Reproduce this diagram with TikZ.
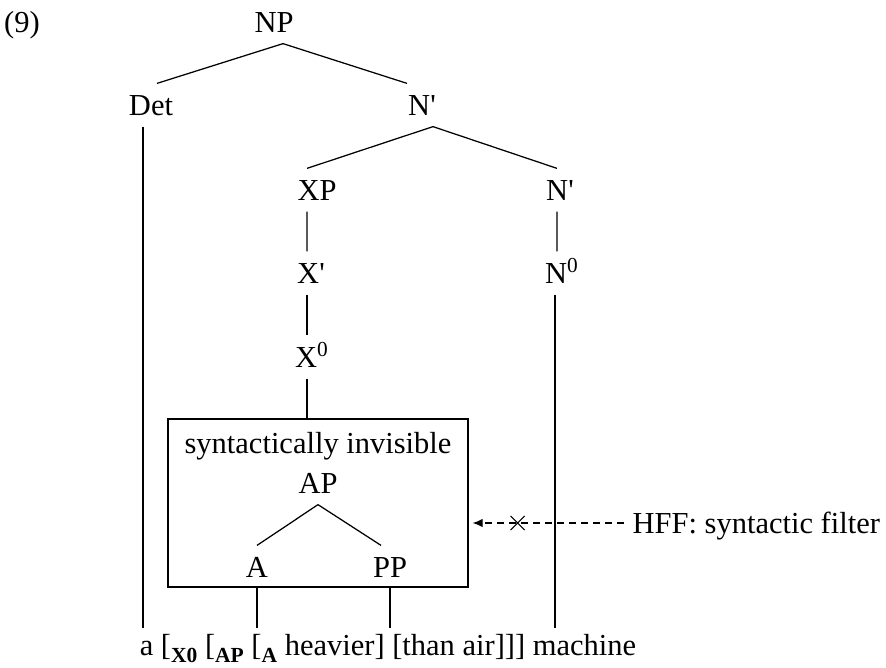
\documentclass[tikz,border=0pt]{standalone}
\usepackage{fontspec}
\setmainfont{Liberation Serif}
\usetikzlibrary{calc,arrows.meta}
\newcommand{\lab}[1]{\raisebox{-0.5ex}{\fontsize{8.6}{9}\selectfont\bfseries #1}}
\newcommand{\pr}{\textquotesingle}

\begin{document}
\begin{tikzpicture}[x=0.4pt,y=-0.4pt,line width=0.5pt,
    font=\fontsize{12.2}{14}\selectfont,
    cat/.style={anchor=base,inner xsep=0pt,inner ysep=4.4pt,text height=8pt,text depth=0pt}]
  \useasboundingbox (0,0) rectangle (886,667);

  \node[anchor=base] (ex) at (22,32) {(9)};

  \node[cat] (NP) at (274,32) {NP};
  \node[cat] (Det) at (151,115) {Det};
  \node[cat] (Nb) at (422,115) {N\pr};
  \node[cat] (XP) at (317,200) {XP};
  \node[cat] (Nc) at (560,200) {N\pr};
  \node[cat] (Xb) at (311,283) {X\pr};
  \node[cat] (N0) at (562,283) {N\textsuperscript{0}};
  \node[cat] (X0) at (312,367) {X\textsuperscript{0}};

  \node[draw,inner sep=0pt,minimum width=120pt,minimum height=67.2pt] (inv) at (318,503) {};
  \node[anchor=base] (invtxt) at (318,453) {syntactically invisible};
  \node[cat] (AP) at (318,493) {AP};
  \node[cat] (A) at (257,577) {A};
  \node[cat] (PP) at (390,577) {PP};

  \node[anchor=base,inner ysep=2.4pt,text height=8pt,text depth=0pt] (str) at (388,655)
    {a [\lab{X0} [\lab{AP} [\lab{A} heavier] [than air]]] machine};
  \node[anchor=base west,inner xsep=3.2pt,inner ysep=0pt,text height=8pt,text depth=0pt] (hff) at (624,533)
    {HFF: syntactic filter};

  \draw ([xshift=3.6pt]NP.south) -- ([xshift=2.4pt]Det.north);
  \draw ([xshift=3.6pt]NP.south) -- ([xshift=-6pt]Nb.north);
  \draw ([xshift=4.4pt]Nb.south) -- ([xshift=-4pt]XP.north);
  \draw ([xshift=4.4pt]Nb.south) -- ([xshift=-1.2pt]Nc.north);
  \draw ([xshift=-4pt]XP.south) -- ([xshift=-1.6pt]Xb.north);
  \draw ([xshift=-1.6pt]Xb.south) -- ([xshift=-2pt]X0.north);
  \draw ([xshift=-1.2pt]Nc.south) -- ([xshift=-2pt]N0.north);

  \coordinate (detfoot) at ([xshift=-3.2pt]Det.south);
  \coordinate (x0foot) at ([xshift=-2pt]X0.south);
  \coordinate (n0foot) at ([xshift=-2.8pt]N0.south);
  \draw (detfoot) -- (detfoot |- str.north);
  \draw (x0foot) -- (x0foot |- inv.north);
  \draw (n0foot) -- (n0foot |- str.north);

  \draw (AP.south) -- (A.north);
  \draw (AP.south) -- ([xshift=-3.6pt]PP.north);
  \draw (A |- inv.south) -- (A |- str.north);
  \draw (PP |- inv.south) -- (PP |- str.north);

  \draw[dash pattern=on 2.8pt off 2pt,-{Latex[length=4pt,width=3.4pt]}]
    (hff.west) -- ($(inv.east |- hff.west)+(4,0)$);
  \coordinate (blk) at ($(inv.east |- hff.west)+(49,0)$);
  \draw[line width=0.45pt] (blk) +(-7,-7) -- +(7,7) (blk) +(-7,7) -- +(7,-7);
\end{tikzpicture}
\end{document}
